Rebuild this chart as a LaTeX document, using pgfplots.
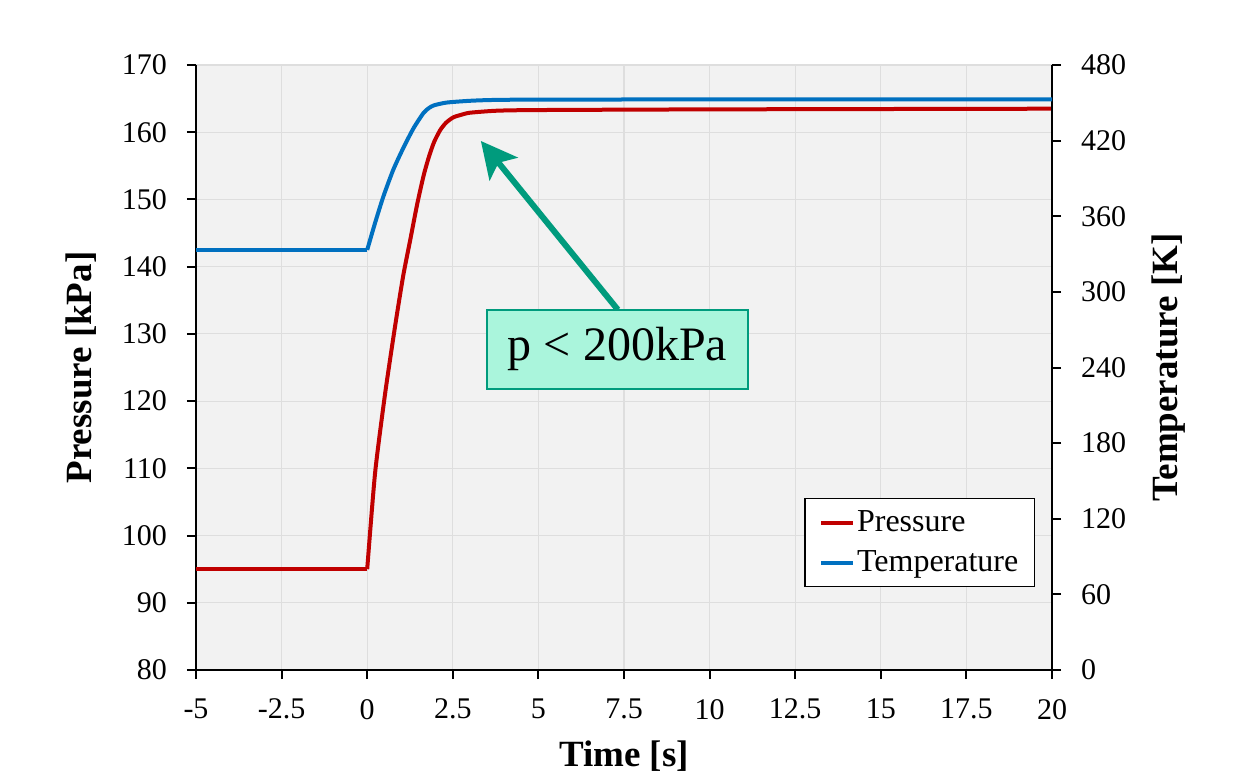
\documentclass[border=0pt]{standalone}
\usepackage{fontspec}
\setmainfont{Liberation Serif}
\usepackage{pgfplots}
\pgfplotsset{compat=1.18}
\usetikzlibrary{arrows.meta}

\definecolor{pres}{HTML}{C00000}
\definecolor{temp}{HTML}{0070C0}
\definecolor{bgray}{HTML}{F2F2F2}
\definecolor{arrowc}{HTML}{009B7D}
\definecolor{boxfill}{HTML}{AAF5DC}

\pgfplotsset{
  common/.style={
    at={(98pt,51.5pt)}, anchor=south west,
    scale only axis, width=428pt, height=302.5pt,
    xmin=-5, xmax=20,
    /pgf/number format/assume math mode=true,
    axis line style={line width=1pt, -},
    tick label style={font=\fontsize{15}{18}\selectfont},
    label style={font=\bfseries\fontsize{18.5}{22}\selectfont},
  },
  ticksout/.style={
    xtick align=outside, ytick align=outside, major tick length=4.5pt,
    tick style={black, line width=1pt},
  }
}

\begin{document}
\begin{tikzpicture}
\path[use as bounding box] (0,0) rectangle (621pt,386.5pt);

% pressure, left axis
\begin{axis}[common,
  ymin=80, ymax=170, ytick={80,90,...,170},
  xtick={-5,-2.5,0,2.5,5,7.5,10,12.5,15,17.5,20},
  xticklabels={-5,-2.5,0,2.5,5,7.5,10,12.5,15,17.5,20},
  axis x line*=bottom, axis y line*=left, ticksout,
  xticklabel style={yshift=-6.5pt},
  yticklabel style={xshift=-6.5pt},
  grid=major, grid style={black!13, line width=0.6pt},
  axis background/.style={fill=bgray},
  xlabel={Time [s]}, ylabel={Pressure [kPa]},
  xlabel shift=4pt, ylabel shift=6pt,
  clip=false,
]
\addplot[pres, line width=2pt] coordinates {(-5,95) (0,95)};
\addplot[pres, line width=2pt, smooth, tension=0.4] coordinates {
  (0,95) (0.23,109.3) (0.52,121.0) (0.81,131.0) (1.05,138.6) (1.25,143.8)
  (1.46,149.3) (1.65,153.6) (1.80,156.3) (1.95,158.5) (2.13,160.3)
  (2.30,161.4) (2.51,162.2) (2.75,162.6) (3.0,162.9) (3.78,163.2)
  (5,163.3) (10,163.4) (20,163.5)
};
\draw[arrowc, line width=3pt, -{Stealth[width=18pt,length=18pt,inset=4pt]}]
  (axis cs:7.32,133.6) -- (axis cs:3.32,158.7);
\node[draw=arrowc, fill=boxfill, line width=0.8pt,
      minimum width=130.5pt, minimum height=39.5pt,
      font=\fontsize{24}{28}\selectfont]
  at (axis cs:7.31,127.7) {p < 200kPa};
\end{axis}

% temperature, right axis
\begin{axis}[common,
  ymin=0, ymax=480, ytick={0,60,...,480},
  hide x axis, axis y line*=right, ticksout,
  yticklabel style={xshift=6.5pt},
  ylabel={Temperature [K]}, ylabel shift=6pt,
  legend style={at={(0.98,0.137)}, anchor=south east,
    draw=black, fill=white, line width=0.6pt,
    font=\fontsize{16}{19}\selectfont,
    row sep=4pt, inner xsep=7pt, inner ysep=4pt,
    nodes={inner xsep=1pt}},
  legend image code/.code={\draw (0pt,0pt) -- (16pt,0pt);},
  legend cell align=left,
]
\addlegendimage{pres, line width=2pt}
\addlegendentry{Pressure}
\addplot[temp, line width=2pt] coordinates {(-5,333.3) (0,333.3)};
\addlegendentry{Temperature}
\addplot[temp, line width=2pt, smooth, tension=0.4, forget plot] coordinates {
  (0,333.3) (0.23,354.7) (0.47,375.5) (0.76,396.8) (1.05,413.9)
  (1.35,429.7) (1.64,441.8) (1.80,445.8) (1.95,448.0) (2.32,450.2)
  (3.0,451.6) (3.78,452.3) (6,452.6) (20,452.8)
};
\end{axis}
\end{tikzpicture}
\end{document}
